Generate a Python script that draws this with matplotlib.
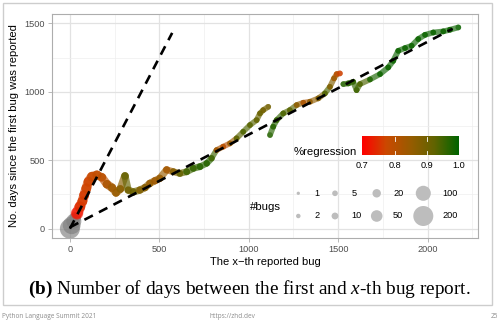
import numpy as np
import matplotlib
matplotlib.use("Agg")
import matplotlib.pyplot as plt
from matplotlib.collections import LineCollection
from matplotlib.colors import LinearSegmentedColormap, Normalize
from matplotlib.patches import Rectangle

plt.rcParams['font.family'] = ['Liberation Sans', 'DejaVu Sans']
plt.rcParams['mathtext.fontset'] = 'custom'
plt.rcParams['mathtext.rm'] = 'Liberation Serif'
plt.rcParams['mathtext.it'] = 'Liberation Serif:italic'
plt.rcParams['mathtext.bf'] = 'Liberation Serif:bold'

# bugs with no regression info (drawn grey)
na_x = [0, 10, 22, 30]
na_y = [0, 25, 55, 80]
na_n = [200, 150, 100, 50]

# first stretch, up to ~1100 reported bugs
a_x = [40, 56, 70, 80, 92, 104, 123, 151, 179, 207, 235, 258, 282, 308, 326, 354,
       391, 420, 447, 475, 503, 541, 578, 615, 653, 690, 727, 765, 792, 820, 857,
       895, 932, 969, 1007, 1044, 1063, 1081, 1109]
a_y = [112, 160, 200, 246, 295, 343, 380, 392, 375, 325, 300, 262, 290, 385, 282, 268,
       282, 300, 331, 350, 368, 430, 416, 404, 416, 441, 453, 477, 514, 574, 599,
       623, 660, 708, 757, 793, 842, 866, 890]
a_reg = [0.72, 0.75, 0.76, 0.76, 0.77, 0.77, 0.78, 0.79, 0.80, 0.82, 0.84, 0.85, 0.87, 0.92, 0.90, 0.91,
         0.88, 0.87, 0.85, 0.84, 0.85, 0.83, 0.88, 0.92, 0.95, 0.96, 0.97, 0.97, 0.95, 0.82, 0.80,
         0.85, 0.93, 0.94, 0.93, 0.92, 0.91, 0.90, 0.90]
a_n = [60, 40, 30, 30, 30, 30, 30, 25, 20, 20, 20, 15, 15, 15, 12, 12,
       12, 12, 12, 12, 12, 12, 10, 10, 10, 10, 10, 8, 8, 5, 5,
       5, 5, 5, 5, 5, 5, 5, 5]

# second stretch
b_x = [1119, 1137, 1156, 1193, 1230, 1268, 1305, 1342, 1389, 1426, 1454, 1477, 1492, 1510]
b_y = [684, 745, 793, 842, 866, 903, 920, 927, 952, 988, 1036, 1098, 1129, 1134]
b_reg = [0.97, 0.97, 0.96, 0.94, 0.93, 0.86, 0.82, 0.86, 0.88, 0.94, 0.88, 0.84, 0.80, 0.76]
b_n = [5] * 14

# last stretch
c_x = [1529, 1557, 1584, 1603, 1622, 1678, 1734, 1780, 1808, 1836, 1874, 1911, 1948,
       1986, 2032, 2088, 2125, 2172]
c_y = [1056, 1061, 1073, 1012, 1056, 1090, 1129, 1178, 1226, 1299, 1319, 1336, 1385,
       1416, 1433, 1441, 1453, 1470]
c_reg = [0.97, 0.97, 0.96, 0.95, 0.94, 0.98, 0.99, 0.99, 0.99, 0.99, 0.99, 0.99, 0.99,
         0.99, 0.99, 0.99, 0.99, 0.99]
c_n = [5] * 18

# dashed guide lines
steep_x = [0, 572]
steep_y = [0, 1430]
flat_x = [0, 2140]
flat_y = [10, 1460]

cbar_ticks = [0.7, 0.8, 0.9, 1.0]
size_breaks = [1, 2, 5, 10, 20, 50, 100, 200]

cmap = LinearSegmentedColormap.from_list(
    'reg', [(0, '#FF0000'), (0.25, '#CB4900'), (0.5, '#985C00'),
            (0.75, '#606400'), (1, '#006400')])
norm = Normalize(0.7, 1.0)


def diam(n):
    # marker diameter in pixels, area scale like ggplot's scale_size
    n = np.asarray(n, dtype=float)
    return 3.3 + 16.7 * np.sqrt((n - 1) / 199.0)


def to_s(n):
    return (diam(n) * 0.72) ** 2


fig = plt.figure(figsize=(5, 3.23), dpi=100)
ax = fig.add_axes([52 / 500, 1 - 238 / 323, 426 / 500, 224 / 323])

ax.set_xlim(-100, 2282)
ax.set_ylim(-68, 1568)
ax.set_xticks([0, 500, 1000, 1500, 2000])
ax.set_yticks([0, 500, 1000, 1500])
ax.set_xticks([250, 750, 1250, 1750, 2250], minor=True)
ax.set_yticks([250, 750, 1250], minor=True)
ax.grid(True, which='major', color='#E2E2E2', lw=0.9)
ax.grid(True, which='minor', color='#EEEEEE', lw=0.5)
ax.set_axisbelow(True)
for sp in ax.spines.values():
    sp.set_color('#ADADAD')
    sp.set_linewidth(0.8)
ax.tick_params(which='major', length=3, width=0.6, color='#ADADAD',
               labelsize=6.6, labelcolor='#4D4D4D', pad=2)
ax.tick_params(which='minor', length=0)

ax.scatter(na_x, na_y, s=to_s(na_n), color='#7F7F7F', alpha=0.65,
           edgecolors='none', zorder=2)

for xs, ys, rs, ns in [(a_x, a_y, a_reg, a_n), (b_x, b_y, b_reg, b_n),
                       (c_x, c_y, c_reg, c_n)]:
    pts = np.column_stack([xs, ys])
    segs = np.stack([pts[:-1], pts[1:]], axis=1)
    d = diam(ns)
    lw = np.minimum(d[:-1], d[1:]) * 0.72
    lc = LineCollection(segs, colors=cmap(norm(np.asarray(rs[:-1]))),
                        linewidths=lw, alpha=0.65, capstyle='round', zorder=2)
    ax.add_collection(lc)
    ax.scatter(xs, ys, s=to_s(ns), c=rs, cmap=cmap, norm=norm, alpha=0.65,
               edgecolors='none', zorder=2)

ax.plot(steep_x, steep_y, color='black', lw=1.9, dashes=(3.6, 2.6), zorder=3)
ax.plot(flat_x, flat_y, color='black', lw=1.9, dashes=(3.6, 2.6), zorder=3)

# overlay in pixel units for titles, legends and the slide frame
ov = fig.add_axes([0, 0, 1, 1], zorder=5)
ov.set_xlim(0, 500)
ov.set_ylim(323, 0)
ov.axis('off')

ov.add_patch(Rectangle((3, 3), 489, 302, fill=False, ec='#CDCDCD', lw=1.0))

ov.text(265, 262, 'The x\u2212th reported bug', ha='center', va='center', fontsize=8)
ov.text(14, 126, 'No. days since the first bug was reported', ha='center',
        va='center', rotation=90, fontsize=8)

# colour bar legend
grad = np.linspace(0.7, 1.0, 200).reshape(1, -1)
ov.imshow(grad, cmap=cmap, norm=norm, extent=(362.3, 459, 155, 136.7),
          aspect='auto', zorder=6)
ov.set_xlim(0, 500)
ov.set_ylim(323, 0)
for t in cbar_ticks[1:-1]:
    tx = 362.3 + (t - 0.7) / 0.3 * (459 - 362.3)
    ov.plot([tx, tx], [136.7, 140.5], color='white', lw=0.6, zorder=7)
    ov.plot([tx, tx], [151.2, 155], color='white', lw=0.6, zorder=7)
for t in cbar_ticks:
    tx = 362.3 + (t - 0.7) / 0.3 * (459 - 362.3)
    ov.text(tx, 165, f'{t:.1f}', ha='center', va='center', fontsize=6.6)
ov.text(357, 152, '%regression', ha='right', va='center', fontsize=8.2)

# size legend
ov.text(250, 207, '#bugs', ha='left', va='center', fontsize=8.2)
col_dot = [298.3, 335, 376.7, 423.3]
col_txt = [314.5, 351.5, 393, 442.5]
row_y = [193.3, 216]
for i, n in enumerate(size_breaks):
    c, r = i // 2, i % 2
    ov.scatter([col_dot[c]], [row_y[r]], s=to_s([n]), color='#BDBDBD',
               edgecolors='none', zorder=6)
    ov.text(col_txt[c], row_y[r], str(n), ha='left', va='center', fontsize=6.6)

ov.text(249, 289, r'$\mathbf{(b)}$ Number of days between the first and $x$-th bug report.',
        ha='center', va='center', fontsize=13.9, family='Liberation Serif')

ov.text(2, 317, 'Python Language Summit 2021', ha='left', va='center',
        fontsize=4.7, color='#8C8C8C', family='Open Sans')
ov.text(232, 317, 'https://zhd.dev', ha='center', va='center',
        fontsize=4.7, color='#8C8C8C', family='Open Sans')
ov.text(498, 317, '25', ha='right', va='center',
        fontsize=4.7, color='#8C8C8C', family='Open Sans')

fig.savefig('out.png', dpi=100)
